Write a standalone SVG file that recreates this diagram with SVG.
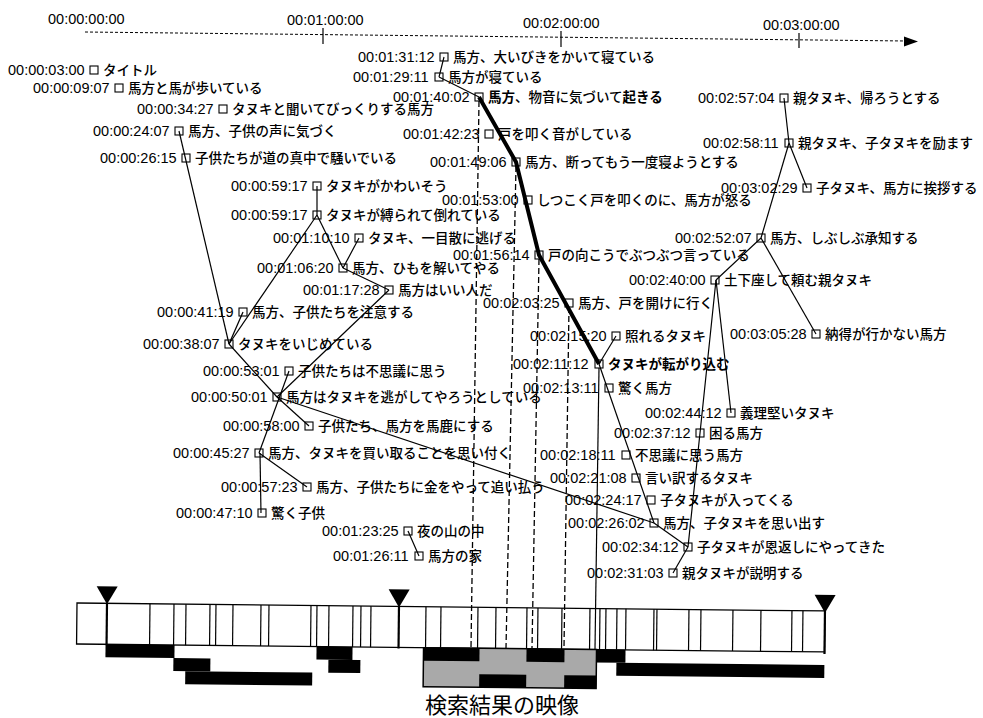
<svg xmlns="http://www.w3.org/2000/svg" width="983" height="718" viewBox="0 0 983 718">
<style>
text{fill:#000}
.ts{font-family:"Liberation Sans","Noto Sans CJK JP",sans-serif;font-size:14.5px}
.lb{font-family:"Noto Sans CJK JP",sans-serif;font-size:13.5px;font-weight:500}
.b{font-weight:bold}
.bx{fill:none;stroke:#000;stroke-width:1.1}
.c{stroke:#000;stroke-width:1.2;fill:none}
.tk{stroke:#000;stroke-width:4;fill:none;stroke-linejoin:round}
.d{stroke:#000;stroke-width:1.3;stroke-dasharray:6 3;fill:none}
.ax{stroke:#000;stroke-width:1;stroke-dasharray:3 2;fill:none}
.dv{stroke:#000;stroke-width:1.2}
.mk{stroke:#000;stroke-width:2.2}
.bk{fill:#000}
.gr{fill:#a9a9a9}
.cap{font-family:"Liberation Serif","Noto Sans CJK JP",serif;font-size:22px}
</style>
<rect width="983" height="718" fill="#fff"/>
<g id="axis">
<line class="ax" x1="85" y1="32" x2="906" y2="41"/>
<polygon points="904,36.5 918,41.5 904,46.5" fill="#000"/>
<line class="c" x1="323" y1="28" x2="323" y2="44"/>
<line class="c" x1="561" y1="31" x2="561" y2="47"/>
<line class="c" x1="799" y1="33" x2="799" y2="48"/>
<text class="ts" x="48" y="24">00:00:00:00</text>
<text class="ts" x="287" y="25">00:01:00:00</text>
<text class="ts" x="523" y="28">00:02:00:00</text>
<text class="ts" x="763" y="30">00:03:00:00</text>
</g>
<g id="connectors">
<polyline class="c" points="179,131 229,344"/>
<polyline class="c" points="317,186 317,215"/>
<polyline class="c" points="317,215 229,344"/>
<polyline class="c" points="317,215 343,268"/>
<polyline class="c" points="359,238 343,268"/>
<polyline class="c" points="343,268 389,290"/>
<polyline class="c" points="243,312 229,344"/>
<polyline class="c" points="229,344 277,397"/>
<polyline class="c" points="389,290 277,397"/>
<polyline class="c" points="289,371 259,453"/>
<polyline class="c" points="277,397 309,426"/>
<polyline class="c" points="277,397 654,523"/>
<polyline class="c" points="260,453 261,513"/>
<polyline class="c" points="259,453 307,487"/>
<polyline class="c" points="408,531 419,556"/>
<polyline class="c" points="444,57 439,77"/>
<polyline class="c" points="439,77 479,97"/>
<polyline class="tk" points="479,97 516,162 539,255 599,364"/>
<polyline class="c" points="616,336 599,364"/>
<polyline class="c" points="599,364 654,523"/>
<polyline class="c" points="654,523 688,547"/>
<polyline class="c" points="716,280 700,433 688,547"/>
<polyline class="c" points="716,280 731,413"/>
<polyline class="c" points="688,547 673,573"/>
<polyline class="c" points="784,98 789,143"/>
<polyline class="c" points="789,143 807,188"/>
<polyline class="c" points="789,143 761,238"/>
<polyline class="c" points="761,238 716,280"/>
<polyline class="c" points="761,238 816,334"/>
</g>
<g id="n01"><text class="ts" x="8" y="75">00:00:03:00</text><rect class="bx" x="90" y="66" width="8" height="8"/><text class="lb" x="103" y="75">タイトル</text></g>
<g id="n02"><text class="ts" x="33" y="93">00:00:09:07</text><rect class="bx" x="115" y="84" width="8" height="8"/><text class="lb" x="128" y="93">馬方と馬が歩いている</text></g>
<g id="n03"><text class="ts" x="137" y="114">00:00:34:27</text><rect class="bx" x="219" y="105" width="8" height="8"/><text class="lb" x="232" y="114">タヌキと聞いてびっくりする馬方</text></g>
<g id="n04"><text class="ts" x="93" y="136">00:00:24:07</text><rect class="bx" x="175" y="127" width="8" height="8"/><text class="lb" x="188" y="136">馬方、子供の声に気づく</text></g>
<g id="n05"><text class="ts" x="100" y="163">00:00:26:15</text><rect class="bx" x="182" y="154" width="8" height="8"/><text class="lb" x="195" y="163">子供たちが道の真中で騒いでいる</text></g>
<g id="n06"><text class="ts" x="231" y="191">00:00:59:17</text><rect class="bx" x="313" y="182" width="8" height="8"/><text class="lb" x="326" y="191">タヌキがかわいそう</text></g>
<g id="n07"><text class="ts" x="231" y="220">00:00:59:17</text><rect class="bx" x="313" y="211" width="8" height="8"/><text class="lb" x="326" y="220">タヌキが縛られて倒れている</text></g>
<g id="n08"><text class="ts" x="273" y="243">00:01:10:10</text><rect class="bx" x="355" y="234" width="8" height="8"/><text class="lb" x="368" y="243">タヌキ、一目散に逃げる</text></g>
<g id="n09"><text class="ts" x="257" y="273">00:01:06:20</text><rect class="bx" x="339" y="264" width="8" height="8"/><text class="lb" x="352" y="273">馬方、ひもを解いてやる</text></g>
<g id="n10"><text class="ts" x="303" y="295">00:01:17:28</text><rect class="bx" x="385" y="286" width="8" height="8"/><text class="lb" x="398" y="295">馬方はいい人だ</text></g>
<g id="n11"><text class="ts" x="157" y="317">00:00:41:19</text><rect class="bx" x="239" y="308" width="8" height="8"/><text class="lb" x="252" y="317">馬方、子供たちを注意する</text></g>
<g id="n12"><text class="ts" x="143" y="349">00:00:38:07</text><rect class="bx" x="225" y="340" width="8" height="8"/><text class="lb" x="238" y="349">タヌキをいじめている</text></g>
<g id="n13"><text class="ts" x="203" y="376">00:00:53:01</text><rect class="bx" x="285" y="367" width="8" height="8"/><text class="lb" x="298" y="376">子供たちは不思議に思う</text></g>
<g id="n14"><text class="ts" x="191" y="402">00:00:50:01</text><rect class="bx" x="273" y="393" width="8" height="8"/><text class="lb" x="286" y="402">馬方はタヌキを逃がしてやろうとしている</text></g>
<g id="n15"><text class="ts" x="223" y="431">00:00:58:00</text><rect class="bx" x="305" y="422" width="8" height="8"/><text class="lb" x="318" y="431">子供たち、馬方を馬鹿にする</text></g>
<g id="n16"><text class="ts" x="173" y="458">00:00:45:27</text><rect class="bx" x="255" y="449" width="8" height="8"/><text class="lb" x="268" y="458">馬方、タヌキを買い取ることを思い付く</text></g>
<g id="n17"><text class="ts" x="221" y="492">00:00:57:23</text><rect class="bx" x="303" y="483" width="8" height="8"/><text class="lb" x="316" y="492">馬方、子供たちに金をやって追い払う</text></g>
<g id="n18"><text class="ts" x="176" y="518">00:00:47:10</text><rect class="bx" x="258" y="509" width="8" height="8"/><text class="lb" x="271" y="518">驚く子供</text></g>
<g id="n19"><text class="ts" x="322" y="536">00:01:23:25</text><rect class="bx" x="404" y="527" width="8" height="8"/><text class="lb" x="417" y="536">夜の山の中</text></g>
<g id="n20"><text class="ts" x="333" y="561">00:01:26:11</text><rect class="bx" x="415" y="552" width="8" height="8"/><text class="lb" x="428" y="561">馬方の家</text></g>
<g id="n21"><text class="ts" x="358" y="62">00:01:31:12</text><rect class="bx" x="440" y="53" width="8" height="8"/><text class="lb" x="453" y="62">馬方、大いびきをかいて寝ている</text></g>
<g id="n22"><text class="ts" x="353" y="82">00:01:29:11</text><rect class="bx" x="435" y="73" width="8" height="8"/><text class="lb" x="448" y="82">馬方が寝ている</text></g>
<g id="n23"><text class="ts" x="393" y="102">00:01:40:02</text><rect class="bx" x="475" y="93" width="8" height="8"/><text class="lb" x="488" y="102"><tspan class="b">馬方</tspan>、物音に気づいて<tspan class="b">起きる</tspan></text></g>
<g id="n24"><text class="ts" x="403" y="139">00:01:42:23</text><rect class="bx" x="485" y="130" width="8" height="8"/><text class="lb" x="498" y="139">戸を叩く音がしている</text></g>
<g id="n25"><text class="ts" x="430" y="167">00:01:49:06</text><rect class="bx" x="512" y="158" width="8" height="8"/><text class="lb" x="525" y="167">馬方、断ってもう一度寝ようとする</text></g>
<g id="n26"><text class="ts" x="442" y="205">00:01:53:00</text><rect class="bx" x="524" y="196" width="8" height="8"/><text class="lb" x="537" y="205">しつこく戸を叩くのに、馬方が怒る</text></g>
<g id="n27"><text class="ts" x="453" y="260">00:01:56:14</text><rect class="bx" x="535" y="251" width="8" height="8"/><text class="lb" x="548" y="260">戸の向こうでぶつぶつ言っている</text></g>
<g id="n28"><text class="ts" x="483" y="308">00:02:03:25</text><rect class="bx" x="565" y="299" width="8" height="8"/><text class="lb" x="578" y="308">馬方、戸を開けに行く</text></g>
<g id="n29"><text class="ts" x="530" y="341">00:02:15:20</text><rect class="bx" x="612" y="332" width="8" height="8"/><text class="lb" x="625" y="341">照れるタヌキ</text></g>
<g id="n30"><text class="ts" x="513" y="369">00:02:11:12</text><rect class="bx" x="595" y="360" width="8" height="8"/><text class="lb b" x="608" y="369">タヌキが転がり込む</text></g>
<g id="n31"><text class="ts" x="523" y="393">00:02:13:11</text><rect class="bx" x="605" y="384" width="8" height="8"/><text class="lb" x="618" y="393">驚く馬方</text></g>
<g id="n32"><text class="ts" x="540" y="460">00:02:18:11</text><rect class="bx" x="622" y="451" width="8" height="8"/><text class="lb" x="635" y="460">不思議に思う馬方</text></g>
<g id="n33"><text class="ts" x="550" y="483">00:02:21:08</text><rect class="bx" x="632" y="474" width="8" height="8"/><text class="lb" x="645" y="483">言い訳するタヌキ</text></g>
<g id="n34"><text class="ts" x="565" y="505">00:02:24:17</text><rect class="bx" x="647" y="496" width="8" height="8"/><text class="lb" x="660" y="505">子タヌキが入ってくる</text></g>
<g id="n35"><text class="ts" x="568" y="528">00:02:26:02</text><rect class="bx" x="650" y="519" width="8" height="8"/><text class="lb" x="663" y="528">馬方、子タヌキを思い出す</text></g>
<g id="n36"><text class="ts" x="602" y="552">00:02:34:12</text><rect class="bx" x="684" y="543" width="8" height="8"/><text class="lb" x="697" y="552">子タヌキが恩返しにやってきた</text></g>
<g id="n37"><text class="ts" x="587" y="578">00:02:31:03</text><rect class="bx" x="669" y="569" width="8" height="8"/><text class="lb" x="682" y="578">親タヌキが説明する</text></g>
<g id="n38"><text class="ts" x="698" y="103">00:02:57:04</text><rect class="bx" x="780" y="94" width="8" height="8"/><text class="lb" x="793" y="103">親タヌキ、帰ろうとする</text></g>
<g id="n39"><text class="ts" x="703" y="148">00:02:58:11</text><rect class="bx" x="785" y="139" width="8" height="8"/><text class="lb" x="798" y="148">親タヌキ、子タヌキを励ます</text></g>
<g id="n40"><text class="ts" x="721" y="193">00:03:02:29</text><rect class="bx" x="803" y="184" width="8" height="8"/><text class="lb" x="816" y="193">子タヌキ、馬方に挨拶する</text></g>
<g id="n41"><text class="ts" x="675" y="243">00:02:52:07</text><rect class="bx" x="757" y="234" width="8" height="8"/><text class="lb" x="770" y="243">馬方、しぶしぶ承知する</text></g>
<g id="n42"><text class="ts" x="629" y="285">00:02:40:00</text><rect class="bx" x="711" y="276" width="8" height="8"/><text class="lb" x="724" y="285">土下座して頼む親タヌキ</text></g>
<g id="n43"><text class="ts" x="730" y="339">00:03:05:28</text><rect class="bx" x="812" y="330" width="8" height="8"/><text class="lb" x="825" y="339">納得が行かない馬方</text></g>
<g id="n44"><text class="ts" x="645" y="418">00:02:44:12</text><rect class="bx" x="727" y="409" width="8" height="8"/><text class="lb" x="740" y="418">義理堅いタヌキ</text></g>
<g id="n45"><text class="ts" x="614" y="438">00:02:37:12</text><rect class="bx" x="696" y="429" width="8" height="8"/><text class="lb" x="709" y="438">困る馬方</text></g>
<g id="strip" transform="rotate(0.61 77 603)">
<rect x="77" y="603" width="748" height="41" fill="#fff" stroke="#000" stroke-width="1.3"/>
<g class="dv">
<line x1="150" y1="603" x2="150" y2="644"/><line x1="174" y1="603" x2="174" y2="644"/><line x1="186" y1="603" x2="186" y2="644"/><line x1="210" y1="603" x2="210" y2="644"/><line x1="216" y1="603" x2="216" y2="644"/><line x1="233" y1="603" x2="233" y2="644"/><line x1="261" y1="603" x2="261" y2="644"/><line x1="269" y1="603" x2="269" y2="644"/><line x1="311" y1="603" x2="311" y2="644"/><line x1="317" y1="603" x2="317" y2="644"/><line x1="329" y1="603" x2="329" y2="644"/><line x1="353" y1="603" x2="353" y2="644"/><line x1="361" y1="603" x2="361" y2="644"/><line x1="371" y1="603" x2="371" y2="644"/><line x1="426" y1="603" x2="426" y2="644"/><line x1="441" y1="603" x2="441" y2="644"/><line x1="478" y1="603" x2="478" y2="644"/><line x1="496" y1="603" x2="496" y2="644"/><line x1="527" y1="603" x2="527" y2="644"/><line x1="538" y1="603" x2="538" y2="644"/><line x1="562" y1="603" x2="562" y2="644"/><line x1="590" y1="603" x2="590" y2="644"/><line x1="600" y1="603" x2="600" y2="644"/><line x1="606" y1="603" x2="606" y2="644"/><line x1="617" y1="603" x2="617" y2="644"/><line x1="626" y1="603" x2="626" y2="644"/><line x1="654" y1="603" x2="654" y2="644"/><line x1="657" y1="603" x2="657" y2="644"/><line x1="689" y1="603" x2="689" y2="644"/><line x1="701" y1="603" x2="701" y2="644"/><line x1="733" y1="603" x2="733" y2="644"/><line x1="761" y1="603" x2="761" y2="644"/><line x1="792" y1="603" x2="792" y2="644"/><line x1="803" y1="603" x2="803" y2="644"/>
</g>
<g class="mk">
<line x1="107" y1="603" x2="107" y2="645"/><line x1="399" y1="603" x2="399" y2="645"/><line x1="825" y1="603" x2="825" y2="646"/>
</g>
<polygon points="96.5,586 117.5,586 107,604" fill="#000"/>
<polygon points="388.5,586 409.5,586 399,604" fill="#000"/>
<polygon points="814.5,587 835.5,587 825,605" fill="#000"/>
<rect class="bk" x="106" y="644" width="69" height="13"/>
<rect class="bk" x="174" y="657" width="37" height="13"/>
<rect class="bk" x="186" y="670" width="127" height="13"/>
<rect class="bk" x="317" y="644" width="36" height="13"/>
<rect class="bk" x="329" y="657" width="32" height="13"/>
<rect class="bk" x="593" y="644" width="33" height="13"/>
<rect class="bk" x="617" y="657" width="208" height="13"/>
<rect class="gr" x="424" y="644" width="173" height="39"/>
<rect class="bk" x="424" y="644" width="56" height="13"/>
<rect class="bk" x="527" y="644" width="38" height="13"/>
<rect class="bk" x="480" y="670" width="47" height="13"/>
<rect class="bk" x="565" y="670" width="32" height="13"/>
<rect x="424" y="644" width="173" height="39" fill="none" stroke="#000" stroke-width="1.5"/>
</g>
<g id="drops">
<line class="d" x1="479" y1="101" x2="471" y2="648"/>
<line class="d" x1="516" y1="166" x2="506" y2="648"/>
<line class="d" x1="539" y1="259" x2="532" y2="648"/>
<line class="d" x1="569" y1="307" x2="564" y2="648"/>
<line class="c" x1="599" y1="368" x2="595" y2="649" stroke-width="1.5"/>
</g>
<text class="cap" x="425" y="713">検索結果の映像</text>
</svg>
